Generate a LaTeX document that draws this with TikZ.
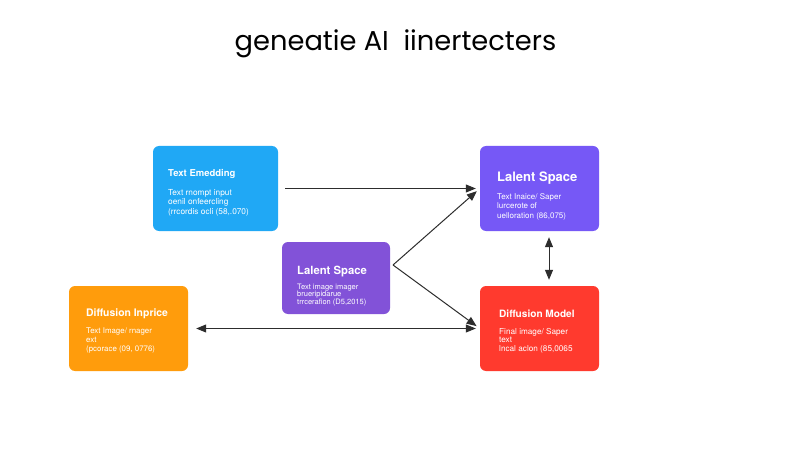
\documentclass[tikz,border=0pt]{standalone}
\usepackage{fontspec}
\setmainfont{TeX Gyre Heros}
\newfontfamily\titlefont{Poppins}
\usetikzlibrary{arrows.meta}
\definecolor{cblue}{RGB}{32,168,245}
\definecolor{cpurple}{RGB}{118,88,246}
\definecolor{cviolet}{RGB}{130,82,216}
\definecolor{corange}{RGB}{255,156,12}
\definecolor{cred}{RGB}{255,58,46}
\definecolor{carrow}{RGB}{45,45,45}
\tikzset{
  box/.style={rounded corners=6pt, inner sep=0pt},
  boxtitle/.style={anchor=west, inner sep=0pt, text=white, font=\bfseries},
  boxbody/.style={anchor=west, inner sep=0pt, text=white, align=left},
  arr/.style={draw=carrow, line width=1pt, -{Triangle[length=10pt,width=8pt]}},
  darr/.style={draw=carrow, line width=1pt, {Triangle[length=10pt,width=8pt]}-{Triangle[length=10pt,width=8pt]}},
}
\begin{document}
\begin{tikzpicture}[x=1pt,y=-1pt]
\useasboundingbox[fill=white] (0,0) rectangle (800,457);
% title
\node[inner sep=0pt, font=\titlefont\fontsize{27.3}{30}\selectfont] (title) at (395.5,44) {geneatie AI\ \ iinertecters};
% boxes
\node[box, fill=cblue, minimum width=125pt, minimum height=85pt] (te) at (215.5,188.5) {};
\node[box, fill=cpurple, minimum width=119pt, minimum height=85pt] (ls) at (539.5,188.5) {};
\node[box, fill=cviolet, minimum width=108pt, minimum height=72pt] (lm) at (336,278) {};
\node[box, fill=corange, minimum width=119pt, minimum height=85pt] (di) at (128.5,328.5) {};
\node[box, fill=cred, minimum width=119pt, minimum height=85pt] (dm) at (539.5,328.5) {};
% texts
\node[boxtitle, font=\bfseries\fontsize{9.5}{11}\selectfont] (tet) at (168,174) {Text Emedding};
\node[boxbody, font=\fontsize{8.3}{9.5}\selectfont] (teb) at (168,202.5) {Text rnompt input\\oenil onfeercling\\(rrcordis ocli (58,.070)};
\node[boxtitle, font=\bfseries\fontsize{13}{15}\selectfont] (lst) at (497,178) {Lalent Space};
\node[boxbody, font=\fontsize{8}{9.5}\selectfont] (lsb) at (497,206.5) {Text Inaice/ Saper\\lurcerote of\\uelloration (86,075)};
\node[boxtitle, font=\bfseries\fontsize{11.3}{13}\selectfont] (lmt) at (297,272) {Lalent Space};
\node[boxbody, font=\fontsize{7.5}{7.8}\selectfont] (lmb) at (297,295) {Text image imager\\brueripidarue\\trrcerafion (D5,2015)};
\node[boxtitle, font=\bfseries\fontsize{10.4}{12}\selectfont] (dit) at (86,314) {Diffusion Inprice};
\node[boxbody, font=\fontsize{7.9}{8.6}\selectfont] (dib) at (86,340.5) {Text Image/ rnager\\ext\\(pcorace (09, 0776)};
\node[boxtitle, font=\bfseries\fontsize{10.1}{12}\selectfont] (dmt) at (499,314) {Diffusion Model};
\node[boxbody, font=\fontsize{8.2}{8.6}\selectfont] (dmb) at (499,340.5) {Final image/ Saper\\text\\lncal aclon (85,0065};
% connectors
\coordinate (apex) at (393,265);
\draw[arr, shorten <=7pt, shorten >=4pt] (te.east) -- (ls.west);
\draw[arr, shorten >=4pt] (apex) -- (ls.west);
\draw[arr, shorten >=4pt] (apex) -- (dm.west);
\draw[darr, shorten <=8pt, shorten >=4pt] (di.east) -- (dm.west);
\draw[darr, shorten <=6pt, shorten >=6pt] ([xshift=9.5pt]ls.south) -- ([xshift=9.5pt]dm.north);
\end{tikzpicture}
\end{document}
